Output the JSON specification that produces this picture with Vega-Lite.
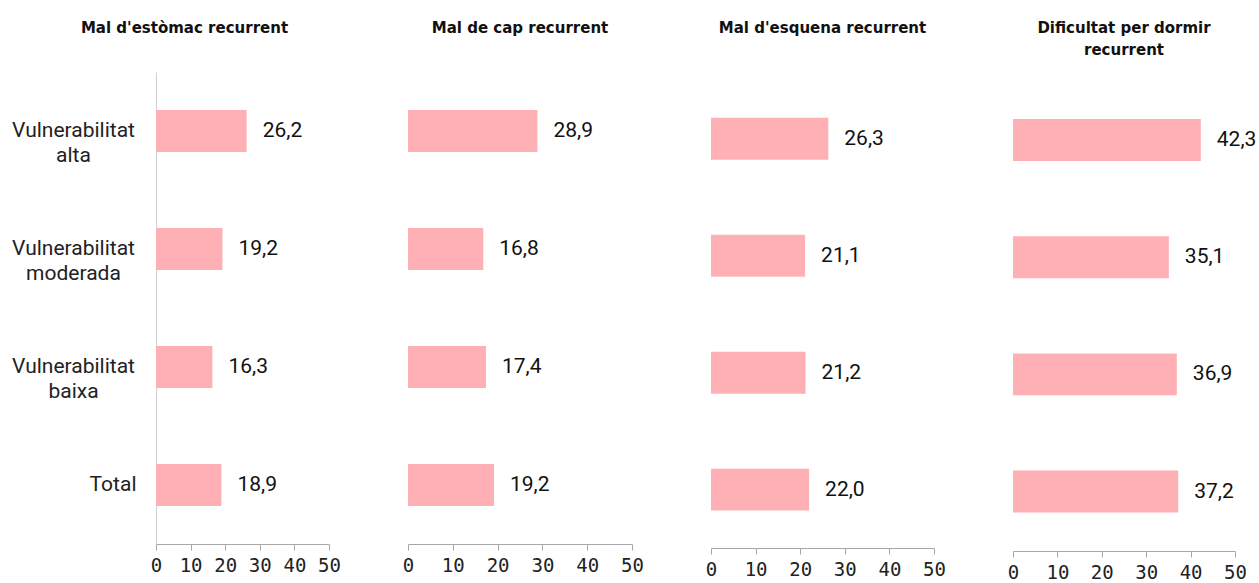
{
  "$schema": "https://vega.github.io/schema/vega-lite/v6.json",
  "padding": {"left": 11, "top": 21, "right": 3, "bottom": 3},
  "config": {
    "locale": {"number": {"decimal": ",", "thousands": ".", "grouping": [3], "currency": ["", " €"]}},
    "view": {"stroke": null},
    "font": "Roboto",
    "title": {"font": "DejaVu Sans", "fontSize": 15, "fontWeight": "bold", "color": "#111", "anchor": "middle", "frame": "group", "lineHeight": 22},
    "axisX": {"domainColor": "#A6A6A6", "tickColor": "#A6A6A6", "tickSize": 6, "labelFontSize": 19, "labelColor": "#222", "labelPadding": 6, "labelOverlap": false, "labelFlush": false, "grid": false, "title": null, "values": [0, 10, 20, 30, 40, 50], "labelFont": "DejaVu Sans Mono"}
  },
  "data": {"values": [
    {"panel": "p1", "cat": "Vulnerabilitat alta", "value": 26.2},
    {"panel": "p1", "cat": "Vulnerabilitat moderada", "value": 19.2},
    {"panel": "p1", "cat": "Vulnerabilitat baixa", "value": 16.3},
    {"panel": "p1", "cat": "Total", "value": 18.9},
    {"panel": "p2", "cat": "Vulnerabilitat alta", "value": 28.9},
    {"panel": "p2", "cat": "Vulnerabilitat moderada", "value": 16.8},
    {"panel": "p2", "cat": "Vulnerabilitat baixa", "value": 17.4},
    {"panel": "p2", "cat": "Total", "value": 19.2},
    {"panel": "p3", "cat": "Vulnerabilitat alta", "value": 26.3},
    {"panel": "p3", "cat": "Vulnerabilitat moderada", "value": 21.1},
    {"panel": "p3", "cat": "Vulnerabilitat baixa", "value": 21.2},
    {"panel": "p3", "cat": "Total", "value": 22.0},
    {"panel": "p4", "cat": "Vulnerabilitat alta", "value": 42.3},
    {"panel": "p4", "cat": "Vulnerabilitat moderada", "value": 35.1},
    {"panel": "p4", "cat": "Vulnerabilitat baixa", "value": 36.9},
    {"panel": "p4", "cat": "Total", "value": 37.2}
  ]},
  "hconcat": [
    {
      "width": 173, "height": 472,
      "transform": [{"filter": "datum.panel == 'p1'"}],
      "title": {"text": "Mal d'estòmac recurrent", "dx": -58, "offset": 36},
      "encoding": {
        "y": {"field": "cat", "type": "nominal", "sort": ["Vulnerabilitat alta", "Vulnerabilitat moderada", "Vulnerabilitat baixa", "Total"],
          "scale": {"paddingInner": 0.644, "paddingOuter": 0.322, "align": 0.5},
          "axis": {"title": null, "ticks": false, "domainColor": "#D0D0D0", "labelFontSize": 21, "labelColor": "#222", "labelLineHeight": 25,
            "labelExpr": "datum.value == 'Total' ? 'Total' : split(datum.value, ' ')",
            "labelAlign": {"condition": {"test": "datum.value == 'Total'", "value": "right"}, "value": "center"},
            "labelPadding": {"condition": {"test": "datum.value == 'Total'", "value": 20}, "value": 83}}},
        "x": {"field": "value", "type": "quantitative", "scale": {"domain": [0, 50]}}
      },
      "layer": [
        {"mark": {"type": "bar", "color": "#FFB0B4"}},
        {"mark": {"type": "text", "align": "left", "dx": 16, "fontSize": 21, "color": "#111"}, "encoding": {"text": {"field": "value", "type": "quantitative", "format": ".1f"}}}
      ]
    },
    {
      "width": 224, "height": 472,
      "transform": [{"filter": "datum.panel == 'p2'"}],
      "title": {"text": "Mal de cap recurrent", "offset": 36},
      "encoding": {
        "y": {"field": "cat", "type": "nominal", "sort": ["Vulnerabilitat alta", "Vulnerabilitat moderada", "Vulnerabilitat baixa", "Total"],
          "scale": {"paddingInner": 0.644, "paddingOuter": 0.322, "align": 0.5}, "axis": null},
        "x": {"field": "value", "type": "quantitative", "scale": {"domain": [0, 50]}}
      },
      "layer": [
        {"mark": {"type": "bar", "color": "#FFB0B4"}},
        {"mark": {"type": "text", "align": "left", "dx": 16, "fontSize": 21, "color": "#111"}, "encoding": {"text": {"field": "value", "type": "quantitative", "format": ".1f"}}}
      ]
    },
    {
      "width": 223, "height": 476,
      "transform": [{"filter": "datum.panel == 'p3'"}],
      "title": {"text": "Mal d'esquena recurrent", "offset": 36},
      "encoding": {
        "y": {"field": "cat", "type": "nominal", "sort": ["Vulnerabilitat alta", "Vulnerabilitat moderada", "Vulnerabilitat baixa", "Total"],
          "scale": {"paddingInner": 0.641, "paddingOuter": 0.355, "align": 0.55}, "axis": null},
        "x": {"field": "value", "type": "quantitative", "scale": {"domain": [0, 50]}}
      },
      "layer": [
        {"mark": {"type": "bar", "color": "#FFB0B4"}},
        {"mark": {"type": "text", "align": "left", "dx": 16, "fontSize": 21, "color": "#111"}, "encoding": {"text": {"field": "value", "type": "quantitative", "format": ".1f"}}}
      ]
    },
    {
      "width": 222, "height": 479,
      "transform": [{"filter": "datum.panel == 'p4'"}],
      "title": {"text": ["Dificultat per dormir", "recurrent"], "offset": 14},
      "encoding": {
        "y": {"field": "cat", "type": "nominal", "sort": ["Vulnerabilitat alta", "Vulnerabilitat moderada", "Vulnerabilitat baixa", "Total"],
          "scale": {"paddingInner": 0.642, "paddingOuter": 0.365, "align": 0.55}, "axis": null},
        "x": {"field": "value", "type": "quantitative", "scale": {"domain": [0, 50]}}
      },
      "layer": [
        {"mark": {"type": "bar", "color": "#FFB0B4"}},
        {"mark": {"type": "text", "align": "left", "dx": 16, "fontSize": 21, "color": "#111"}, "encoding": {"text": {"field": "value", "type": "quantitative", "format": ".1f"}}}
      ]
    }
  ],
  "spacing": 79,
  "bounds": "flush"
}
